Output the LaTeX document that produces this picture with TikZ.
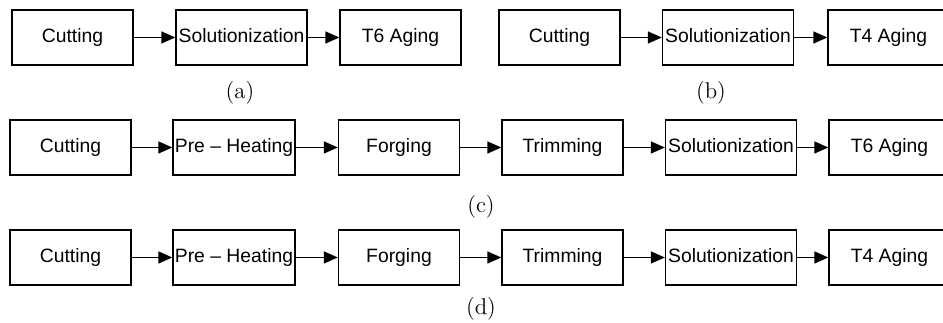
\documentclass[tikz,border=0pt]{standalone}
\usepackage{fontspec}
\usepackage{tikz}
\usetikzlibrary{arrows.meta}
\newfontfamily\boxfont{Liberation Sans}

\begin{document}
\begin{tikzpicture}[x=0.02cm, y=-0.02cm, >={Triangle[length=2.8mm, width=2.4mm]},
    box/.style={draw, line width=0.8pt, minimum width=2.42cm, minimum height=1.1cm,
        inner sep=0pt, text height=1.6ex, text depth=0.4ex,
        font=\boxfont\fontsize{11}{13}\selectfont},
    widebox/.style={box, minimum width=2.62cm},
    link/.style={->, line width=0.8pt},
    tag/.style={font=\fontsize{13}{15}\selectfont}]
    \useasboundingbox (0,0) rectangle (943,323);
    % (a) and (b)
    \node[box] (a1) at (72.5,37.5) {Cutting};
    \node[widebox] (a2) at (241.5,37.5) {Solutionization};
    \node[box] (a3) at (400.5,37.5) {T6 Aging};
    \node[box] (b1) at (559.5,37.5) {Cutting};
    \node[widebox] (b2) at (728,37.5) {Solutionization};
    \node[box] (b3) at (888.5,37.5) {T4 Aging};
    \foreach \r in {a, b} {
        \draw[link] (\r1) -- (\r2);
        \draw[link] (\r2) -- (\r3);
    }
    \node[tag] (la) at (240,93) {(a)};
    \node[tag] (lb) at (711,93) {(b)};
    % (c) and (d)
    \foreach \r/\y/\t/\ly in {c/147.5/T6/207, d/257.5/T4/309} {
        \node[box] (\r1) at (70.5,\y) {Cutting};
        \node[box, minimum width=2.44cm] (\r2) at (234,\y) {Pre – Heating};
        \node[box] (\r3) at (399,\y) {Forging};
        \node[box] (\r4) at (562.5,\y) {Trimming};
        \node[widebox] (\r5) at (731,\y) {Solutionization};
        \node[box] (\r6) at (889.5,\y) {\t\ Aging};
        \foreach \i/\j in {1/2, 2/3, 3/4, 4/5, 5/6}
            \draw[link] (\r\i) -- (\r\j);
        \node[tag] (l\r) at (481,\ly) {(\r)};
    }
\end{tikzpicture}
\end{document}
